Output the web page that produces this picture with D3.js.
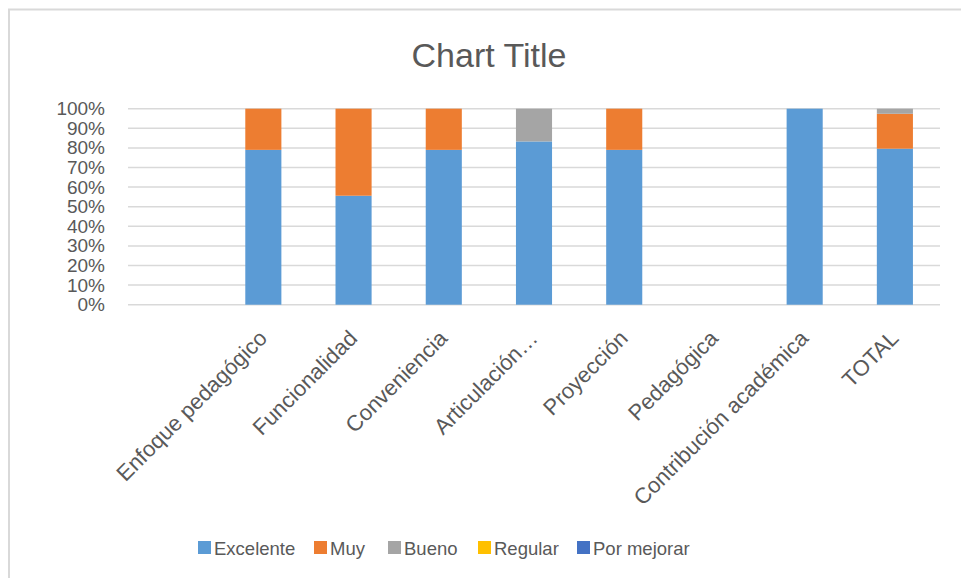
<!DOCTYPE html>
<html>
<head>
<meta charset="utf-8">
<script src="https://cdn.jsdelivr.net/npm/d3@7"></script>
<style>
  html, body { margin: 0; padding: 0; background: #fff; }
  svg { display: block; font-family: "Liberation Sans", Arial, sans-serif; }
</style>
</head>
<body>
<svg id="chart" width="961" height="578"></svg>
<script>
// ---- data ----
const categories = ["", "Enfoque pedagógico", "Funcionalidad", "Conveniencia", "Articulación…", "Proyección", "Pedagógica", "Contribución académica", "TOTAL"];
const seriesNames = ["Excelente", "Muy", "Bueno", "Regular", "Por mejorar"];
const excelente  = [0, 79, 55.6, 79, 83.3, 79, 0, 100, 79.6];
const muy        = [0, 21, 44.4, 21, 0, 21, 0, 0, 17.8];
const bueno      = [0, 0, 0, 0, 16.7, 0, 0, 0, 2.6];
const regular    = [0, 0, 0, 0, 0, 0, 0, 0, 0];
const porMejorar = [0, 0, 0, 0, 0, 0, 0, 0, 0];
const colors = ["#5B9BD5", "#ED7D31", "#A5A5A5", "#FFC000", "#4472C4"];
const yTicks = [0, 0.1, 0.2, 0.3, 0.4, 0.5, 0.6, 0.7, 0.8, 0.9, 1.0];
const title = "Chart Title";

const seriesValues = [excelente, muy, bueno, regular, porMejorar];
const rows = categories.map((c, i) => {
  const r = { cat: c };
  seriesNames.forEach((s, k) => r[s] = seriesValues[k][i]);
  return r;
});

const svg = d3.select("#chart");
const W = 961, H = 578;

// chart border
svg.append("rect").attr("x", 9).attr("y", 9.5).attr("width", W + 10).attr("height", H + 10)
  .attr("fill", "#fff").attr("stroke", "#d9d9d9").attr("stroke-width", 2);

const plot = { left: 128, right: 940, top: 108.7, bottom: 304.7 };

const x = d3.scaleBand().domain(categories).range([plot.left, plot.right])
  .paddingInner(0.6).paddingOuter(0.3);
const y = d3.scaleLinear().domain([0, 1]).range([plot.bottom, plot.top]);

// gridlines
svg.append("g").selectAll("line").data(yTicks).join("line")
  .attr("x1", plot.left).attr("x2", plot.right)
  .attr("y1", d => y(d)).attr("y2", d => y(d))
  .attr("stroke", "#d9d9d9").attr("stroke-width", 1.5);

// stacked (100%)
const stack = d3.stack().keys(seriesNames).offset(d3.stackOffsetExpand);
const stacked = stack(rows);

svg.append("g").selectAll("g").data(stacked).join("g")
  .attr("fill", (d, i) => colors[i])
  .selectAll("rect").data(d => d.filter(p => !isNaN(p[0]) && !isNaN(p[1]) && p[1] - p[0] > 0)).join("rect")
  .attr("x", d => x(d.data.cat))
  .attr("width", x.bandwidth())
  .attr("y", d => y(d[1]))
  .attr("height", d => y(d[0]) - y(d[1]));

// y axis labels
const yAxis = d3.axisLeft(y).tickValues(yTicks).tickFormat(d3.format(".0%")).tickSize(0).tickPadding(0);
const ya = svg.append("g").attr("transform", `translate(${105},0)`).call(yAxis);
ya.select(".domain").remove();
ya.selectAll("text").attr("fill", "#595959").attr("font-size", 19)
  .attr("font-family", "Liberation Sans, Arial, sans-serif");

// x axis labels
const xAxis = d3.axisBottom(x).tickSize(0).tickPadding(0);
const xa = svg.append("g").attr("transform", `translate(0,${plot.bottom})`).call(xAxis);
xa.select(".domain").remove();
xa.selectAll(".tick text")
  .attr("fill", "#595959").attr("font-size", 22)
  .attr("font-family", "Liberation Sans, Arial, sans-serif")
  .attr("text-anchor", "end")
  .attr("dy", null).attr("y", 0)
  .attr("transform", "translate(5,35) rotate(-45)");

// title
svg.append("text").attr("x", 489).attr("y", 67)
  .attr("text-anchor", "middle").attr("fill", "#595959").attr("font-size", 34)
  .text(title);

// legend
const legendX = [198, 314, 388, 478, 577];
const lg = svg.append("g").selectAll("g").data(seriesNames).join("g")
  .attr("transform", (d, i) => `translate(${legendX[i]},541)`);
lg.append("rect").attr("width", 13).attr("height", 13).attr("fill", (d, i) => colors[i]);
lg.append("text").attr("x", 16).attr("y", 13.5).attr("fill", "#595959").attr("font-size", 18.5).text(d => d);
</script>
</body>
</html>
